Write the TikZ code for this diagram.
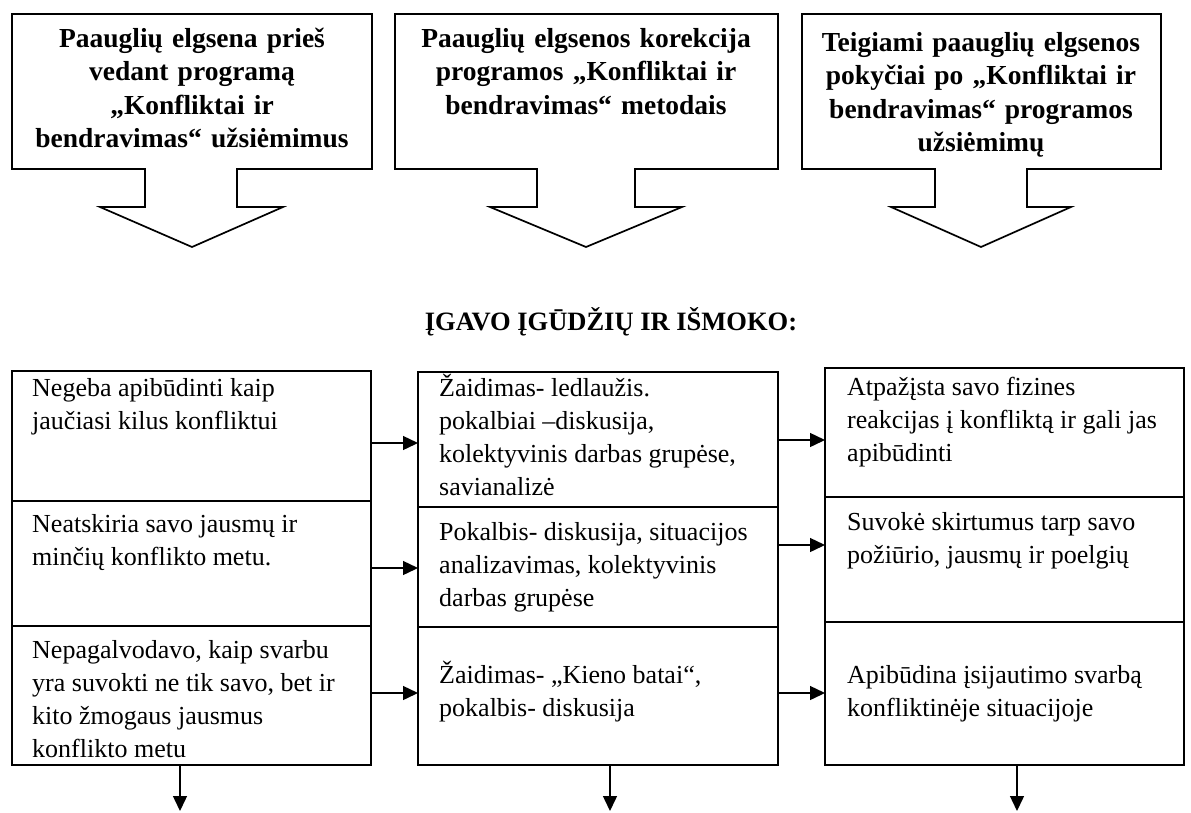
\documentclass[tikz,border=0pt]{standalone}
\usepackage{fontspec}
\setmainfont{Liberation Serif}
\usetikzlibrary{arrows.meta}
\begin{document}
\begin{tikzpicture}[x=1pt,y=-1pt,
  outline/.style={draw=black, line width=1.7pt, line join=miter},
  cell/.style={draw=black, line width=1.7pt, anchor=north west, inner sep=0pt, outer sep=0pt},
  celltext/.style={anchor=base west, inner sep=0pt, text width=345pt, align=left, font=\fontsize{26}{33}\selectfont, execute at begin node={\spaceskip=0pt\xspaceskip=0pt\relax}},
  toptext/.style={anchor=base, inner sep=0pt, text width=360pt, align=center, font=\fontsize{27.5}{33.5}\selectfont\bfseries},
  arr/.style={line width=1.4pt, -{Triangle[length=15pt,width=14pt]}}
]
\useasboundingbox (0,0) rectangle (1191,812);

% top callouts
\draw[outline] (12,14) -- (372,14) -- (372,169) -- (237,169) -- (237,207) -- (283,207) -- (192,247) -- (100,207) -- (145,207) -- (145,169) -- (12,169) -- cycle;
\draw[outline] (395,14) -- (778,14) -- (778,169) -- (635,169) -- (635,207) -- (682,207) -- (586,247) -- (490,207) -- (537,207) -- (537,169) -- (395,169) -- cycle;
\draw[outline] (802,14) -- (1161,14) -- (1161,169) -- (1027,169) -- (1027,207) -- (1071,207) -- (981,247) -- (891,207) -- (935,207) -- (935,169) -- (802,169) -- cycle;

\node[toptext] (t1) at (192,47) {Paauglių elgsena prieš\\vedant programą\\„Konfliktai ir\\bendravimas“ užsiėmimus};
\node[toptext] (t2) at (586,47) {Paauglių elgsenos korekcija\\programos „Konfliktai ir\\bendravimas“ metodais};
\node[toptext] (t3) at (981,51) {Teigiami paauglių elgsenos\\pokyčiai po „Konfliktai ir\\bendravimas“ programos\\užsiėmimų};

% heading
\node[anchor=base, inner sep=0pt, font=\fontsize{26.5}{32}\selectfont\bfseries] (head) at (611,330) {ĮGAVO ĮGŪDŽIŲ IR IŠMOKO:};

% cells
\node[cell, minimum width=359pt, minimum height=130pt] (l1) at (12,371) {};
\node[cell, minimum width=359pt, minimum height=125pt] (l2) at (12,501) {};
\node[cell, minimum width=359pt, minimum height=139pt] (l3) at (12,626) {};
\node[cell, minimum width=360pt, minimum height=135pt] (m1) at (418,372) {};
\node[cell, minimum width=360pt, minimum height=120pt] (m2) at (418,507) {};
\node[cell, minimum width=360pt, minimum height=138pt] (m3) at (418,627) {};
\node[cell, minimum width=359pt, minimum height=129pt] (r1) at (825,368) {};
\node[cell, minimum width=359pt, minimum height=125pt] (r2) at (825,497) {};
\node[cell, minimum width=359pt, minimum height=143pt] (r3) at (825,622) {};

% cell texts
\node[celltext] (l1t) at (32,396) {Negeba apibūdinti kaip\\jaučiasi kilus konfliktui};
\node[celltext] (l2t) at (32,532) {Neatskiria savo jausmų ir\\minčių konflikto metu.};
\node[celltext] (l3t) at (32,658) {Nepagalvodavo, kaip svarbu\\yra suvokti ne tik savo, bet ir\\kito žmogaus jausmus\\konflikto metu};
\node[celltext] (m1t) at (439,396) {Žaidimas- ledlaužis.\\pokalbiai –diskusija,\\kolektyvinis darbas grupėse,\\savianalizė};
\node[celltext] (m2t) at (439,540) {Pokalbis- diskusija, situacijos\\analizavimas, kolektyvinis\\darbas grupėse};
\node[celltext] (m3t) at (439,683) {Žaidimas- „Kieno batai“,\\pokalbis- diskusija};
\node[celltext] (r1t) at (847,395) {Atpažįsta savo fizines\\reakcijas į konfliktą ir gali jas\\apibūdinti};
\node[celltext] (r2t) at (847,530) {Suvokė skirtumus tarp savo\\požiūrio, jausmų ir poelgių};
\node[celltext] (r3t) at (847,683) {Apibūdina įsijautimo svarbą\\konfliktinėje situacijoje};

% horizontal arrows
\draw[arr] (l1.east |- 0,443) -- (m1.west |- 0,443);
\draw[arr] (l2.east |- 0,568) -- (m2.west |- 0,568);
\draw[arr] (l3.east |- 0,693) -- (m3.west |- 0,693);
\draw[arr] (m1.east |- 0,440) -- (r1.west |- 0,440);
\draw[arr] (m2.east |- 0,545) -- (r2.west |- 0,545);
\draw[arr] (m3.east |- 0,693) -- (r3.west |- 0,693);

% down arrows
\coordinate (ld) at (180,811);
\coordinate (md) at (610,811);
\coordinate (rd) at (1017,811);
\draw[arr] (l3.south -| ld) -- (ld);
\draw[arr] (m3.south -| md) -- (md);
\draw[arr] (r3.south -| rd) -- (rd);
\end{tikzpicture}
\end{document}
